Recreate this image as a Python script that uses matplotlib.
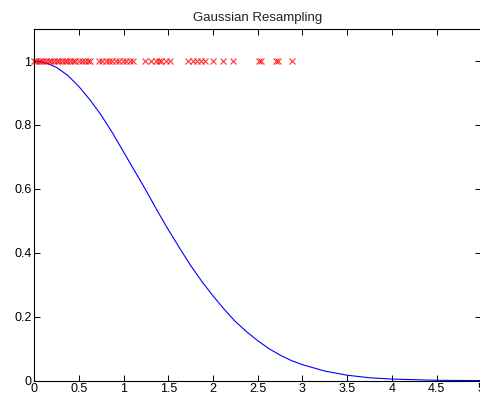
import matplotlib
matplotlib.use("Agg")
import matplotlib.pyplot as plt

# resampled particle positions (all at weight 1)
samples = [0.0, 0.02, 0.05, 0.08, 0.10, 0.13, 0.16, 0.19, 0.22, 0.25, 0.28,
           0.31, 0.34, 0.37, 0.40, 0.43, 0.46, 0.50, 0.53, 0.57, 0.60, 0.62,
           0.72, 0.76, 0.80, 0.83, 0.87, 0.91, 0.95, 0.99, 1.03, 1.07, 1.10,
           1.24, 1.30, 1.36, 1.39, 1.42, 1.47, 1.52,
           1.72, 1.77, 1.82, 1.87, 1.91,
           2.00, 2.11, 2.22,
           2.51, 2.54, 2.70, 2.73, 2.88]
sample_level = [1.0] * len(samples)

# gaussian curve
curve_x = [0.0, 0.125, 0.25, 0.375, 0.5, 0.625, 0.75, 0.875, 1.0, 1.125,
           1.25, 1.375, 1.5, 1.625, 1.75, 1.875, 2.0, 2.125, 2.25, 2.375,
           2.5, 2.625, 2.75, 2.875, 3.0, 3.25, 3.5, 3.75, 4.0, 4.5, 5.0]
curve_y = [1.0, 0.995, 0.98, 0.955, 0.92, 0.878, 0.83, 0.775, 0.715, 0.655,
           0.595, 0.532, 0.472, 0.415, 0.36, 0.31, 0.265, 0.223, 0.185, 0.153,
           0.125, 0.1, 0.08, 0.063, 0.05, 0.03, 0.017, 0.009, 0.005, 0.001,
           0.0002]

plt.rcParams['font.family'] = ['Liberation Sans', 'DejaVu Sans']

fig = plt.figure(figsize=(4.8, 3.99), dpi=100)
ax = fig.add_axes([0.0715, 0.046, 0.931, 0.881])

ax.plot(curve_x, curve_y, color='#0000ff', linewidth=0.8)
ax.plot(samples, sample_level, linestyle='none', marker='x', color='#ff0000',
        markersize=5, markeredgewidth=0.8, alpha=0.8, clip_on=False)

ax.set_xlim(0, 5)
ax.set_ylim(0, 1.1)
ax.set_xticks([0, 0.5, 1, 1.5, 2, 2.5, 3, 3.5, 4, 4.5, 5])
ax.set_xticklabels(['0', '0.5', '1', '1.5', '2', '2.5', '3', '3.5', '4', '4.5', '5'])
ax.set_yticks([0, 0.2, 0.4, 0.6, 0.8, 1])
ax.set_yticklabels(['0', '0.2', '0.4', '0.6', '0.8', '1'])
ax.tick_params(direction='in', length=4, width=0.7, top=True, right=True,
               labelsize=9, pad=2, colors='black')
for s in ax.spines.values():
    s.set_linewidth(0.8)
ax.set_title('Gaussian Resampling', fontsize=9.5, pad=6, color='#222222')

fig.savefig('out.png', dpi=100)
